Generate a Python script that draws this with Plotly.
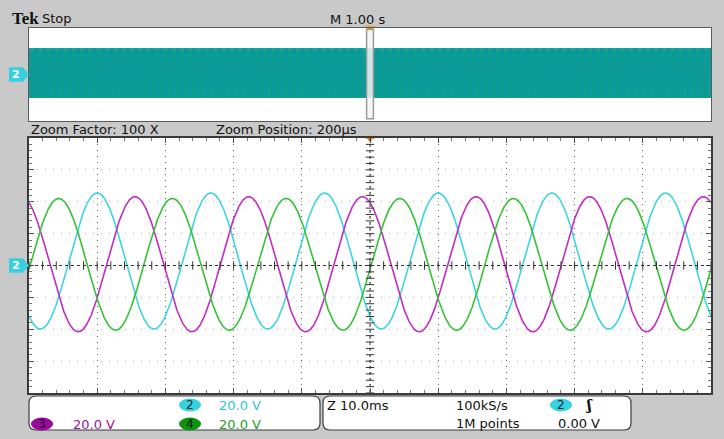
import numpy as np
import plotly.graph_objects as go

W, H = 724, 439

# ---- acquisition settings / channel readings ----
channel_ids = ["2", "3", "4"]
channel_colors = ["#3dd5e0", "#c22cc2", "#36c236"]
badge_colors = ["#35d2e0", "#9a0a9a", "#0e930e"]
label_colors = ["#2cc6d4", "#a010a0", "#22a022"]
peak_volts = [45.5, 43.2, 42.1]        # positive peak of each phase (V)
trough_volts = [-39.9, -41.6, -40.6]   # negative peak of each phase (V)
peak_time_ms = [-40.0, -34.45, -45.64] # time of a positive peak (ms)
line_freq_hz = 60.0
volts_per_div = 20.0
zoom_ms_per_div = 10.0                 # Z 10.0ms
main_s_per_div = 1.0                   # M 1.00 s
divs_x, divs_y = 10, 8


def px(x):
    return x / W


def py(y):
    return 1 - y / H


def wave(i, t_ms):
    off = (peak_volts[i] + trough_volts[i]) / 2
    amp = (peak_volts[i] - trough_volts[i]) / 2
    return off + amp * np.cos(2 * np.pi * line_freq_hz * (t_ms - peak_time_ms[i]) / 1000.0)


fig = go.Figure()

# ---- overview record (10 s): channel 4 underneath, channel 2 on top ----
half_main = main_s_per_div * divs_x / 2
t_over = np.linspace(-half_main, half_main, 30001)
for i, col, w in [(2, channel_colors[2], 1.4), (0, "#0b9a9c", 1.0)]:
    fig.add_trace(go.Scatter(
        x=t_over, y=wave(i, t_over * 1000.0), mode="lines",
        line=dict(color=col, width=w), xaxis="x2", yaxis="y2",
        hoverinfo="skip", showlegend=False))

# ---- zoomed view (100 ms) ----
half_zoom = zoom_ms_per_div * divs_x / 2
t_zoom = np.linspace(-half_zoom, half_zoom, 3001)
for i in [0, 1, 2]:
    fig.add_trace(go.Scatter(
        x=t_zoom, y=wave(i, t_zoom), mode="lines",
        line=dict(color=channel_colors[i], width=1.6),
        hoverinfo="skip", showlegend=False))

# centre crosshair ticks
half_v = volts_per_div * divs_y / 2
xt = np.arange(-half_zoom, half_zoom + 0.01, zoom_ms_per_div / 5)
yt = np.arange(-half_v, half_v + 0.01, volts_per_div / 5)
fig.add_trace(go.Scatter(x=xt, y=np.zeros_like(xt), mode="markers",
                         marker=dict(symbol="line-ns", size=6, line=dict(color="#333", width=1)),
                         hoverinfo="skip", showlegend=False))
fig.add_trace(go.Scatter(x=np.zeros_like(yt), y=yt, mode="markers",
                         marker=dict(symbol="line-ew", size=6, line=dict(color="#333", width=1)),
                         hoverinfo="skip", showlegend=False))

# trigger position markers
fig.add_trace(go.Scatter(x=[0], y=[half_v], mode="markers", cliponaxis=False,
                         marker=dict(symbol="triangle-down", size=9, color="#f0a41c"),
                         hoverinfo="skip", showlegend=False))
fig.add_trace(go.Scatter(x=[0], y=[half_v], mode="markers", cliponaxis=False,
                         xaxis="x2", yaxis="y2",
                         marker=dict(symbol="triangle-down", size=9, color="#f0a41c"),
                         hoverinfo="skip", showlegend=False))

x_dom = [px(29), px(711)]
fig.update_layout(
    width=W, height=H,
    margin=dict(l=0, r=0, t=0, b=0),
    paper_bgcolor="#c9c9c9", plot_bgcolor="#ffffff",
    font=dict(family="DejaVu Sans", size=13, color="#111"),
    xaxis=dict(domain=x_dom, range=[-half_zoom, half_zoom], dtick=zoom_ms_per_div,
               showgrid=True, griddash="1px,5px", gridcolor="#6a6a6a", gridwidth=1.2,
               zeroline=False, showticklabels=False,
               ticks="inside", ticklen=5, tickcolor="#555",
               minor=dict(dtick=zoom_ms_per_div / 5, ticks="inside", ticklen=3, tickcolor="#777"),
               showline=True, mirror="ticks", linecolor="#3a3a3a", linewidth=2),
    yaxis=dict(domain=[py(393), py(138)], range=[-half_v, half_v], dtick=volts_per_div,
               showgrid=True, griddash="1px,7px", gridcolor="#b5b5b5", gridwidth=1,
               zeroline=False, showticklabels=False,
               ticks="inside", ticklen=5, tickcolor="#555",
               minor=dict(dtick=volts_per_div / 5, ticks="inside", ticklen=3, tickcolor="#777"),
               showline=True, mirror="ticks", linecolor="#3a3a3a", linewidth=2),
    xaxis2=dict(domain=x_dom, range=[-half_main, half_main], anchor="y2",
                showgrid=False, zeroline=False, showticklabels=False, ticks="",
                showline=True, mirror=True, linecolor="#5a5a5a", linewidth=1),
    yaxis2=dict(domain=[py(121), py(28)], range=[-half_v, half_v], anchor="x2",
                showgrid=False, zeroline=False, showticklabels=False, ticks="",
                showline=True, mirror=True, linecolor="#5a5a5a", linewidth=1),
)

shapes = []
# centre crosshair lines
shapes.append(dict(type="line", xref="x", yref="y", x0=-half_zoom, x1=half_zoom, y0=0, y1=0,
                   line=dict(color="#333", width=1, dash="dot")))
shapes.append(dict(type="line", xref="x", yref="y", x0=0, x1=0, y0=-half_v, y1=half_v,
                   line=dict(color="#333", width=1, dash="dot")))
# zoom window in the overview
zw = zoom_ms_per_div * divs_x / 1000.0 / 2
shapes.append(dict(type="rect", xref="x2", yref="y2", x0=-zw, x1=zw, y0=-76, y1=78,
                   line=dict(color="#9a9a9a", width=1.5), fillcolor="rgba(245,245,245,0.85)"))


def rrect(x0, y0, x1, y1, r):
    p = (f"M {px(x0 + r)},{py(y0)} L {px(x1 - r)},{py(y0)} "
         f"Q {px(x1)},{py(y0)} {px(x1)},{py(y0 + r)} L {px(x1)},{py(y1 - r)} "
         f"Q {px(x1)},{py(y1)} {px(x1 - r)},{py(y1)} L {px(x0 + r)},{py(y1)} "
         f"Q {px(x0)},{py(y1)} {px(x0)},{py(y1 - r)} L {px(x0)},{py(y0 + r)} "
         f"Q {px(x0)},{py(y0)} {px(x0 + r)},{py(y0)} Z")
    return dict(type="path", xref="paper", yref="paper", path=p,
                line=dict(color="#3c3c3c", width=1.2), fillcolor="#ffffff", layer="below")


shapes.append(rrect(29, 396, 320, 430, 7))
shapes.append(rrect(323, 396, 631, 430, 7))


def badge(xc, yc, color):
    return dict(type="circle", xref="paper", yref="paper",
                x0=px(xc - 11), x1=px(xc + 11), y0=py(yc + 6.5), y1=py(yc - 6.5),
                line=dict(width=0), fillcolor=color)


shapes.append(badge(190, 405, badge_colors[0]))
shapes.append(badge(42, 424, badge_colors[1]))
shapes.append(badge(190, 424, badge_colors[2]))
shapes.append(badge(561, 405, badge_colors[0]))

# channel 2 ground-level pointers (half height in volts for each pane)
for yref, hh in [("y", 4.6), ("y2", 12.5)]:
    shapes.append(dict(type="path", xref="paper", yref=yref,
                       path=(f"M {px(9)},{-hh} L {px(23)},{-hh} L {px(29)},0 "
                             f"L {px(23)},{hh} L {px(9)},{hh} Z"),
                       line=dict(width=0), fillcolor="#38cfe0"))
fig.update_layout(shapes=shapes)

ann = []


def text(x, y, s, color="#111", size=13, family="DejaVu Sans", anchor="left"):
    ann.append(dict(x=px(x), y=py(y), xref="paper", yref="paper", text=s, showarrow=False,
                    xanchor=anchor, yanchor="middle", font=dict(color=color, size=size, family=family)))


text(10, 19, "<b>Tek</b>", size=17, family="Liberation Serif")
text(40, 19, "Stop", size=13)
text(328, 20, f"M {main_s_per_div:.2f} s", size=13)
text(29, 129, "Zoom Factor: 100 X", size=13)
text(214, 129, "Zoom Position: 200\u00b5s", size=13)

text(190, 405, channel_ids[0], color="#0a2a30", size=12, anchor="center")
text(42, 424, channel_ids[1], color="#2a002a", size=12, anchor="center")
text(190, 424, channel_ids[2], color="#001a00", size=12, anchor="center")
text(217, 405, f"{volts_per_div:.1f} V", color=label_colors[0])
text(71, 424, f"{volts_per_div:.1f} V", color=label_colors[1])
text(217, 424, f"{volts_per_div:.1f} V", color=label_colors[2])

text(325, 405, f"Z {zoom_ms_per_div:.1f}ms")
text(454, 405, "100kS/s")
text(454, 423, "1M points")
text(561, 405, channel_ids[0], color="#0a2a30", size=12, anchor="center")
text(583, 405, "<b>\u0283</b>", size=14, family="DejaVu Serif")
text(556, 423, "0.00 V")

# channel 2 pointer labels
for yref in ["y", "y2"]:
    ann.append(dict(x=px(16), y=0, xref="paper", yref=yref, text="<b>2</b>", showarrow=False,
                    xanchor="center", yanchor="middle",
                    font=dict(color="#ffffff", size=11, family="DejaVu Sans")))

fig.update_layout(annotations=ann)
fig.write_html("out.html")
